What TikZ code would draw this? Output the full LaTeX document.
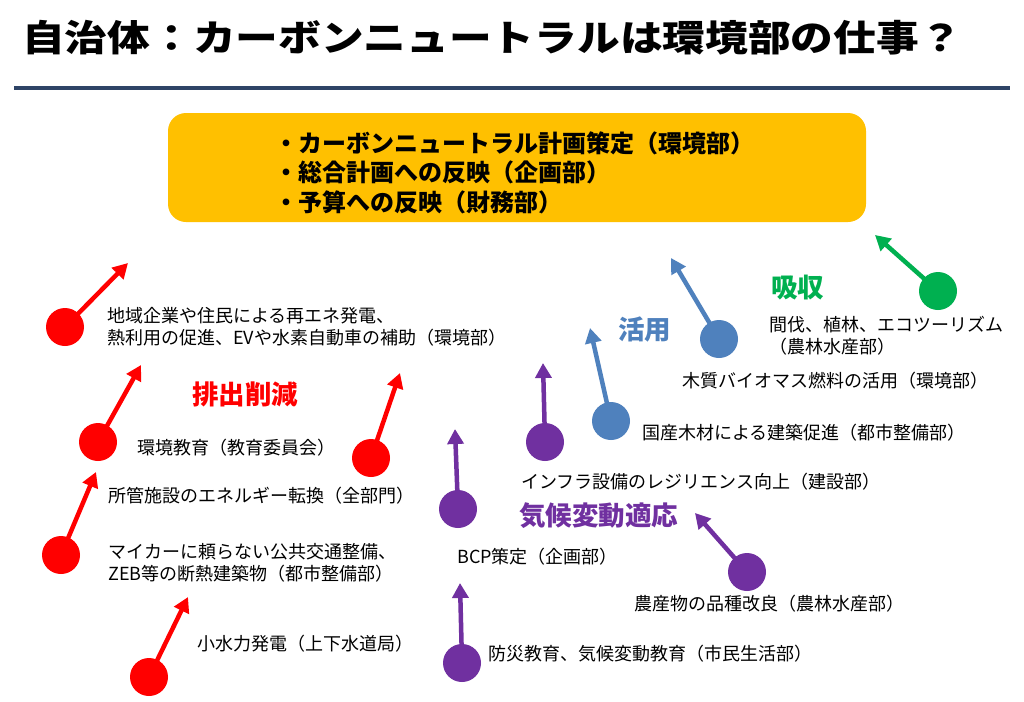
\documentclass[tikz,border=0pt]{standalone}
\usepackage{fontspec}
\setmainfont{Noto Sans CJK JP}
\newfontfamily\cntitlefont{Noto Sans CJK JP}[FakeStretch=1.17]
\usetikzlibrary{arrows.meta}
\definecolor{cnred}{HTML}{FF0000}
\definecolor{cnpurple}{HTML}{7030A0}
\definecolor{cnblue}{HTML}{4F81BD}
\definecolor{cngreen}{HTML}{00B050}
\definecolor{cnnavy}{HTML}{2E4466}
\definecolor{cnorange}{HTML}{FFC000}
\tikzset{
  dot/.style={circle, fill=#1, draw=none, minimum size=38pt, inner sep=0pt},
  arr/.style={draw=#1, line width=4.5pt, -{Triangle[length=15pt,width=16pt]}, shorten <=-4pt},
  lbl/.style={anchor=west, inner sep=0pt, align=left, font=\fontsize{18}{22.5}\selectfont,
              text height=1.16em, text depth=0pt},
  head/.style={anchor=west, inner sep=0pt, text=#1, font=\fontsize{26.5}{30}\selectfont\bfseries,
              text height=1.16em, text depth=0pt},
  plan/.style={fill=cnorange, draw=none, rounded corners=18pt, minimum width=698pt,
              minimum height=109pt, inner sep=0pt},
  plantext/.style={align=left, inner sep=0pt, font=\fontsize{24}{29.5}\selectfont\bfseries}
}
\begin{document}
\begin{tikzpicture}[x=1pt,y=-1pt]
\useasboundingbox[fill=white] (0,0) rectangle (1024,701);
% title
\node[anchor=west, inner sep=0pt, font=\cntitlefont\fontsize{36.5}{40}\selectfont\bfseries,
      text height=1.16em, text depth=0pt] (title) at (22,46)
  {自治体：カーボンニュートラルは環境部の仕事？};
\draw[cnnavy, line width=4pt] (14,88) -- (1010,88);
% plan box
\node[plan] (plan) at (517,167.5) {};
\node[plantext] (plantxt) at ([xshift=-3pt,yshift=-5pt]plan.center)
  {・カーボンニュートラル計画策定（環境部）\\・総合計画への反映（企画部）\\・予算への反映（財務部）};
% dots
\node[dot=cnred] (r1) at (65,327) {};
\node[dot=cnred] (r2) at (98,442) {};
\node[dot=cnred] (r3) at (371,458) {};
\node[dot=cnred] (r4) at (61,555) {};
\node[dot=cnred] (r5) at (149,677) {};
\node[dot=cnpurple] (p1) at (458,509) {};
\node[dot=cnpurple] (p2) at (462,663) {};
\node[dot=cnpurple] (p3) at (545,442) {};
\node[dot=cnpurple] (p4) at (747,572) {};
\node[dot=cnblue] (b1) at (611,421) {};
\node[dot=cnblue] (b2) at (719,339) {};
\node[dot=cngreen] (g1) at (938,291) {};
% tips
\coordinate (tr1) at (128,263);
\coordinate (tr2) at (141,365);
\coordinate (tr3) at (400,373);
\coordinate (tr4) at (96,472);
\coordinate (tr5) at (188,597);
\coordinate (tp1) at (455,429);
\coordinate (tp2) at (460,583);
\coordinate (tp3) at (543,363);
\coordinate (tp4) at (695,513);
\coordinate (tb1) at (590,328);
\coordinate (tb2) at (671,258);
\coordinate (tg1) at (875,235);
% arrows
\draw[arr=cnred] (r1) -- (tr1);
\draw[arr=cnred] (r2) -- (tr2);
\draw[arr=cnred] (r3) -- (tr3);
\draw[arr=cnred] (r4) -- (tr4);
\draw[arr=cnred] (r5) -- (tr5);
\draw[arr=cnpurple] (p1) -- (tp1);
\draw[arr=cnpurple] (p2) -- (tp2);
\draw[arr=cnpurple] (p3) -- (tp3);
\draw[arr=cnpurple] (p4) -- (tp4);
\draw[arr=cnblue] (b1) -- (tb1);
\draw[arr=cnblue] (b2) -- (tb2);
\draw[arr=cngreen] (g1) -- (tg1);
% labels (two-line labels are anchored at their last line)
\node[lbl] (t1) at (107,339) {地域企業や住民による再エネ発電、\\熱利用の促進、EVや水素自動車の補助（環境部）};
\node[lbl] (t2) at (137,449) {環境教育（教育委員会）};
\node[lbl] (t3) at (108,497) {所管施設のエネルギー転換（全部門）};
\node[lbl] (t4) at (108,575) {マイカーに頼らない公共交通整備、\\ZEB等の断熱建築物（都市整備部）};
\node[lbl] (t5) at (197,645) {小水力発電（上下水道局）};
\node[lbl] (t6) at (457,558) {BCP策定（企画部）};
\node[lbl] (t7) at (488,655) {防災教育、気候変動教育（市民生活部）};
\node[lbl] (t8) at (521,483) {インフラ設備のレジリエンス向上（建設部）};
\node[lbl] (t9) at (634,605) {農産物の品種改良（農林水産部）};
\node[lbl] (t10) at (642,434) {国産木材による建築促進（都市整備部）};
\node[lbl] (t11) at (682,382) {木質バイオマス燃料の活用（環境部）};
\node[lbl] (t12) at (769,348) {間伐、植林、エコツーリズム\\（農林水産部）};
% headings
\node[head=cnred] (h1) at (192,399) {排出削減};
\node[head=cnblue] (h2) at (618,334) {活用};
\node[head=cngreen] (h3) at (771,292) {吸収};
\node[head=cnpurple] (h4) at (519,520) {気候変動適応};
\end{tikzpicture}
\end{document}
